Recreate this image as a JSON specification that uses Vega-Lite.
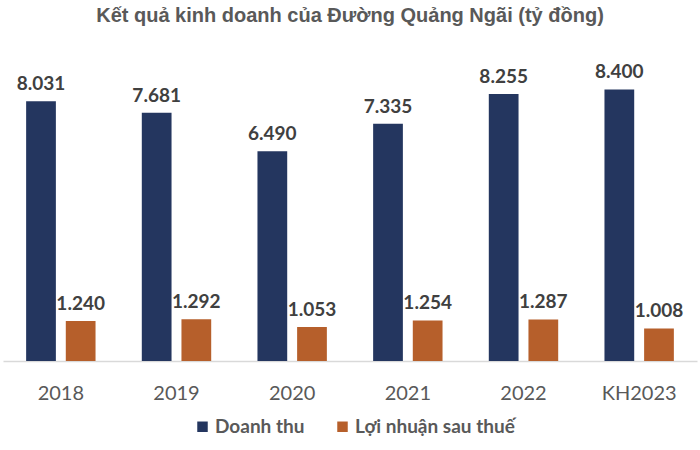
{
  "$schema": "https://vega.github.io/schema/vega-lite/v6.json",
  "autosize": "none",
  "width": 694,
  "height": 291,
  "padding": {"left": 3, "top": 70, "right": 3, "bottom": 89},
  "background": "white",
  "title": {
    "text": "Kết quả kinh doanh của Đường Quảng Ngãi (tỷ đồng)",
    "font": "Liberation Sans",
    "fontSize": 20,
    "fontWeight": "bold",
    "color": "#595959",
    "anchor": "middle",
    "offset": 37
  },
  "config": {
    "view": {"stroke": null},
    "locale": {"number": {"decimal": ",", "thousands": ".", "grouping": [3], "currency": ["", ""]}}
  },
  "data": {
    "values": [
      {"year": "2018", "series": "Doanh thu", "value": 8031},
      {"year": "2018", "series": "Lợi nhuận sau thuế", "value": 1240},
      {"year": "2019", "series": "Doanh thu", "value": 7681},
      {"year": "2019", "series": "Lợi nhuận sau thuế", "value": 1292},
      {"year": "2020", "series": "Doanh thu", "value": 6490},
      {"year": "2020", "series": "Lợi nhuận sau thuế", "value": 1053},
      {"year": "2021", "series": "Doanh thu", "value": 7335},
      {"year": "2021", "series": "Lợi nhuận sau thuế", "value": 1254},
      {"year": "2022", "series": "Doanh thu", "value": 8255},
      {"year": "2022", "series": "Lợi nhuận sau thuế", "value": 1287},
      {"year": "KH2023", "series": "Doanh thu", "value": 8400},
      {"year": "KH2023", "series": "Lợi nhuận sau thuế", "value": 1008}
    ]
  },
  "encoding": {
    "x": {
      "field": "year", "type": "nominal", "sort": null,
      "scale": {"paddingInner": 0.4, "paddingOuter": 0.2},
      "axis": {
        "title": null, "labelAngle": 0, "ticks": false,
        "domainColor": "#d9d9d9", "domainWidth": 1.5,
        "labelFont": "Lato", "labelFontSize": 20, "labelColor": "#595959",
        "labelPadding": 22
      }
    },
    "xOffset": {"field": "series", "type": "nominal", "sort": null, "scale": {"paddingInner": 0.25}},
    "y": {
      "field": "value", "type": "quantitative",
      "scale": {"domain": [0, 9000], "nice": false},
      "axis": null
    }
  },
  "layer": [
    {
      "mark": {"type": "bar"},
      "encoding": {
        "color": {
          "field": "series", "type": "nominal", "sort": null,
          "scale": {"domain": ["Doanh thu", "Lợi nhuận sau thuế"], "range": ["#24365F", "#B65F2B"]},
          "legend": {
            "title": null, "orient": "none", "direction": "horizontal",
            "legendX": 190, "legendY": 347,
            "symbolType": "square", "symbolSize": 110, "symbolStrokeWidth": 0,
            "labelFont": "Lato", "labelFontSize": 19, "labelFontWeight": "bold", "labelColor": "#595959",
            "columnPadding": 28, "labelOffset": 3, "labelLimit": 300
          }
        }
      }
    },
    {
      "mark": {"type": "text", "baseline": "bottom", "dy": -7, "font": "Lato", "fontSize": 19, "fontWeight": "bold", "color": "#404040"},
      "encoding": {
        "text": {"field": "value", "type": "quantitative", "format": ",d"}
      }
    }
  ]
}
